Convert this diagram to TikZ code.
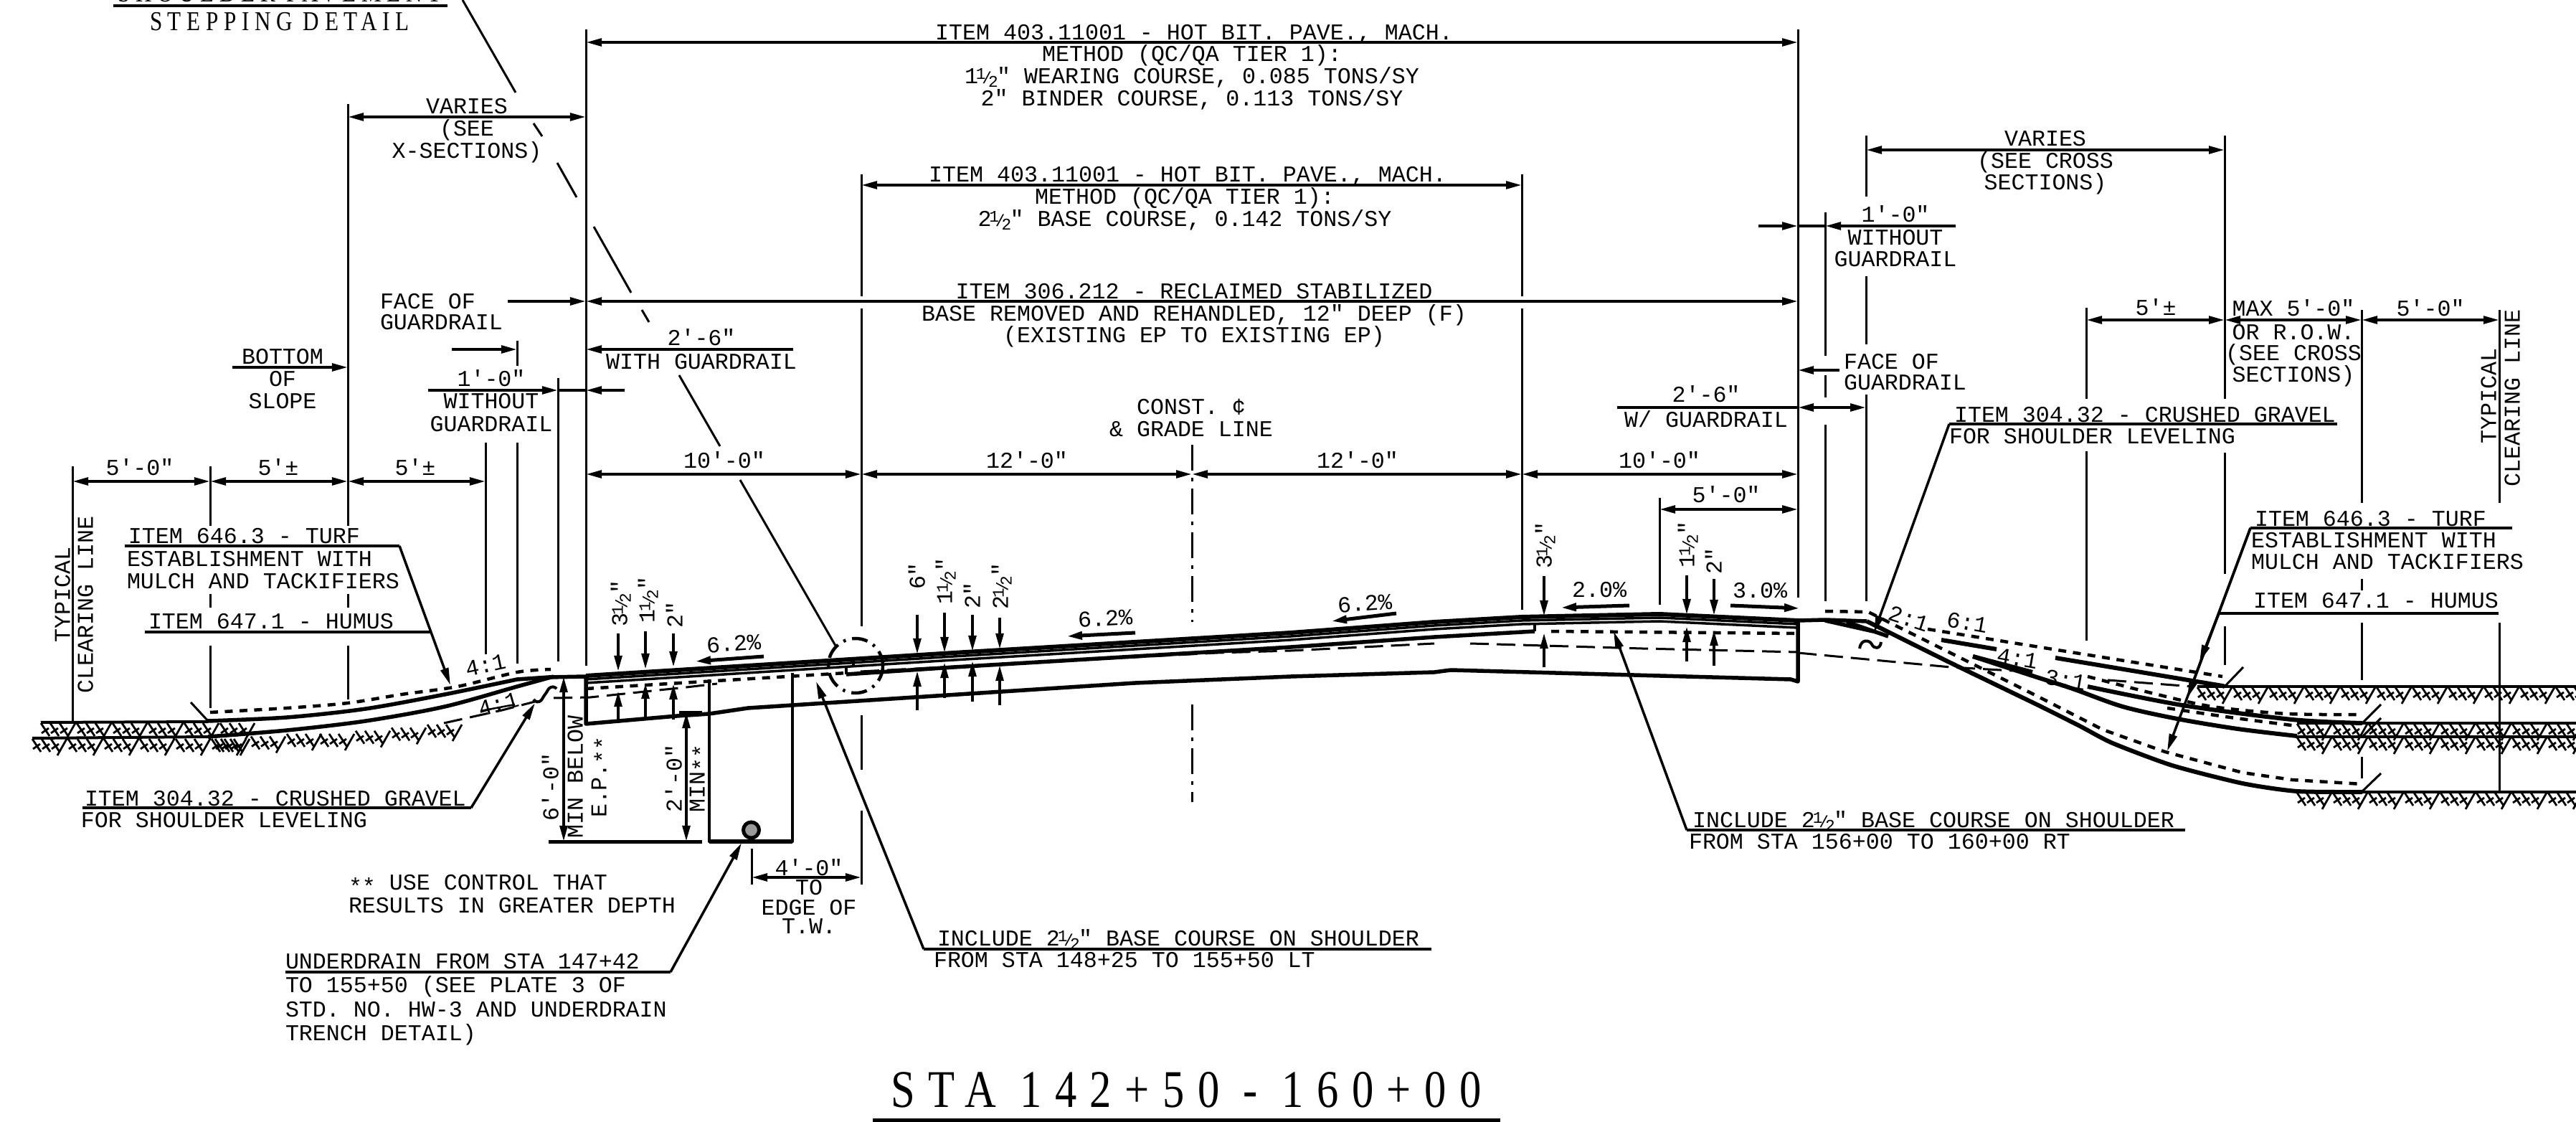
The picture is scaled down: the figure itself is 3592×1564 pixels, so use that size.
\documentclass[tikz,border=0pt]{standalone}
\usepackage{fontspec}
\usepackage{graphicx}
\usetikzlibrary{arrows.meta,calc}
\newfontfamily\cadfont{Liberation Mono}
\newfontfamily\slabfont[FakeStretch=0.82,LetterSpace=20]{Liberation Serif}
\newfontfamily\titlefont[FakeStretch=0.82,LetterSpace=25]{Liberation Serif}
\newcount\tc
\newcommand\hf{\kern-.1em\raisebox{.35ex}{\scalebox{.72}{1}}\kern-.16em\scalebox{.72}{/}\kern-.16em\raisebox{-.3ex}{\scalebox{.72}{2}}\kern-.05em}
\newcommand\stars{\raisebox{-.35ex}{**}}
% centred text, y = middle of the capitals
\newcommand\TC[4][]{\global\advance\tc by 1\relax\node[lab,yshift=-1.05mm,anchor=base,#1,name=t\the\tc] at (#2,#3) {#4};}
% left aligned text
\newcommand\TL[4][]{\global\advance\tc by 1\relax\node[lab,yshift=-1.05mm,anchor=base west,#1,name=t\the\tc] at (#2,#3) {#4};}
% rotated text reading upward
\newcommand\TV[3]{\global\advance\tc by 1\relax\node[lab,xshift=1.05mm,rotate=90,anchor=base,name=t\the\tc] at (#1,#2) {#3};}
% rotated slope label
\newcommand\TR[4]{\global\advance\tc by 1\relax\node[lab,rotate=#1,anchor=center,name=t\the\tc] at (#2,#3) {#4};}
\newcommand\hatch[4]{%
  \pgfmathsetmacro\hn{int((#3-#1)/50)}%
  \foreach \i in {0,...,\hn}{%
    \pgfmathsetmacro\hx{#1+50*\i}%
    \pgfmathsetmacro\hy{#2+(#4-#2)*\i/max(\hn,1)}%
    \foreach \k in {0,1,2}{%
      \draw[hatchline] (\hx+\k*13,\hy) -- ++(12,18) (\hx+\k*13+1,\hy+14) -- ++(10,-7);
    }%
    \draw[hatchline] (\hx+48,\hy) -- ++(-13,23);
  }%
}
\tikzset{
  lab/.style={inner sep=0pt,outer sep=0pt,font=\cadfont\fontsize{9}{10}\selectfont,text=black},
  ext/.style={line width=.03cm,line cap=butt},
  dimline/.style={line width=.04cm,{Triangle[length=2.2mm,width=1.05mm]}-{Triangle[length=2.2mm,width=1.05mm]}},
  dimto/.style={line width=.04cm,-{Triangle[length=2.2mm,width=1.05mm]}},
  rule/.style={line width=.045cm},
  leader/.style={line width=.035cm,-{Triangle[length=2.4mm,width=1.1mm]}},
  leadnote/.style={line width=.03cm},
  heavy/.style={line width=.055cm,line join=round},
  heavier/.style={line width=.06cm,line join=round},
  layer/.style={line width=.035cm},
  thickdash/.style={line width=.045cm,dash pattern=on 1.1mm off .95mm},
  thindash/.style={line width=.03cm,dash pattern=on 2.6mm off 1.1mm},
  cldash/.style={line width=.03cm,dash pattern=on 3.6mm off 1mm on .5mm off 1mm},
  hatchline/.style={line width=.028cm},
  ground/.style={line width=.04cm},
  tick/.style={line width=.03cm},
}
\begin{document}
\begin{tikzpicture}[x=0.01cm,y=-0.01cm]
\useasboundingbox (0,0) rectangle (3592,1564);
\fill[white] (0,0) rectangle (3592,1564);
\def\Tline{(817,942) -- (1090,925) -- (1330,910) -- (1800,882) -- (2000,867) -- (2122,860) -- (2314,856) -- (2507,865)}

%% ---------- extension lines
\draw[ext] (101,650)--(101,1007);
\draw[ext] (293,650)--(293,733) (293,828)--(293,847) (293,900)--(293,987);
\draw[ext] (485,145)--(485,733) (485,828)--(485,847) (485,900)--(485,975);
\draw[ext] (677,617)--(677,912);
\draw[ext] (721,617)--(721,925) (721,475)--(721,510);
\draw[ext] (778,527)--(778,922);
\draw[ext] (817,41)--(817,928);
\draw[ext] (1201,243)--(1201,413) (1201,430)--(1201,873) (1201,997)--(1201,1073) (1201,1130)--(1201,1233);
\draw[ext] (2122,243)--(2122,413) (2122,430)--(2122,850);
\draw[ext] (2314,694)--(2314,843);
\draw[ext] (2507,41)--(2507,833);
\draw[ext] (2545,296)--(2545,496) (2545,523)--(2545,554) (2545,592)--(2545,838);
\draw[ext] (2602,189)--(2602,274) (2602,385)--(2602,480) (2602,550)--(2602,838);
\draw[ext] (2909,429)--(2909,556) (2909,629)--(2909,893);
\draw[ext] (3102,189)--(3102,556) (3102,631)--(3102,800) (3102,873)--(3102,927);
\draw[ext] (3293,432)--(3293,701) (3293,807)--(3293,823) (3293,868)--(3293,948) (3293,1055)--(3293,1085);
\draw[ext] (3485,432)--(3485,701) (3485,868)--(3485,1105);
\draw[ext] (1048,1183)--(1048,1233);
\draw[cldash] (1662,620)--(1662,867);
\draw[cldash] (1662,982)--(1662,1118);

%% ---------- dimension lines
\draw[dimline] (101,671)--(293,671);
\draw[dimline] (293,671)--(485,671);
\draw[dimline] (485,671)--(677,671);
\draw[dimline] (485,163)--(817,163);
\draw[dimline] (817,59)--(2507,59);
\draw[dimline] (1201,258)--(2122,258);
\draw[dimline] (817,420)--(2507,420);
\draw[dimto] (708,420)--(817,420);
\draw[dimto] (1106,487)--(817,487);
\draw[dimto] (630,487)--(721,487);
\draw[dimto] (324,512)--(485,512);
\draw[dimto] (597,544)--(778,544);
\draw[dimto] (871,544)--(817,544);
\draw[line width=.04cm] (778,544)--(817,544);
\draw[dimline] (817,661)--(1201,661);
\draw[dimline] (1201,661)--(1662,661);
\draw[dimline] (1662,661)--(2122,661);
\draw[dimline] (2122,661)--(2507,661);
\draw[dimline] (2314,710)--(2507,710);
\draw[dimline] (1048,1223)--(1201,1223);
\draw[dimto] (2452,315)--(2507,315);
\draw[line width=.04cm] (2507,315)--(2545,315);
\draw[dimto] (2727,315)--(2545,315);
\draw[dimline] (2602,209)--(3102,209);
\draw[dimto] (2565,516)--(2507,516);
\draw[line width=.04cm] (2255,568)--(2507,568);
\draw[dimline] (2507,568)--(2602,568);
\draw[dimline] (2909,446)--(3102,446);
\draw[dimline] (3102,446)--(3293,446);
\draw[dimline] (3293,446)--(3485,446);
\draw[dimline] (786,943)--(786,1173);
\draw[dimline] (957,993)--(957,1173);

%% ---------- pavement depth arrows
\foreach \x/\a/\b/\c/\d in {862/883/936/963/1008,900/880/933/952/1000,939/883/930/953/1003,
  1279/857/912/935/990,1317/854/910/923/973,1356/857/908/921/978,1394/861/905/927/983,
  2153/803/859/882/930,2352/802/857/873/922,2390/807/858/878/928}{
  \draw[dimto] (\x,\a)--(\x,\b);
  \draw[dimto] (\x,\d)--(\x,\c);
}

%% ---------- slope arrows
\draw[dimto,line width=.05cm] (1065,915)--(969,922);
\draw[dimto,line width=.05cm] (1583,882)--(1487,887);
\draw[dimto,line width=.05cm] (1947,855)--(1856,866);
\draw[dimto,line width=.05cm] (2272,844)--(2176,847);
\draw[dimto,line width=.05cm] (2413,844)--(2510,848);

%% ---------- pavement
\draw[heavier] \Tline;
\draw[layer,shift={(0,5)}] \Tline;
\draw[layer,shift={(0,10)}] \Tline;
\draw[heavy] (1180,940) -- (1330,930) -- (1800,902) -- (2000,888) -- (2140,880);
\draw[line width=.04cm] (1180,931)--(1180,940) (2140,870)--(2140,880) (1190,920)--(1190,928);
\draw[thickdash] (817,960)--(1181,938);
\draw[thickdash] (2163,880)--(2507,883);
\draw[heavy] (817,943)--(817,1009)--(944,998)--(989,995)--(1043,987)--(1583,952)--(1800,943)--(2000,937)--(2023,934)--(2497,947)--(2507,950)--(2507,867);
% trench
\draw[heavy,line width=.045cm] (989,947)--(989,1173)--(1105,1173)--(1105,938);
\draw[line width=.055cm] (989,1173)--(1105,1173);
\draw[line width=.05cm] (765,1173)--(979,1173);
\draw[line width=.04cm] (947,993)--(979,993);
\draw[line width=.05cm,fill=gray!80!white] (1047.5,1157) circle (11);
% detail circle
\draw[line width=.045cm,dash pattern=on 2.2mm off .9mm on .35mm off .9mm] (1193,928) circle (38);

%% ---------- left slope
\draw[ground] (57,1007)--(290,1006);
\draw[ground] (45,1029)--(290,1027);
\hatch{57}{1008}{350}{1008}
\hatch{45}{1030}{300}{1030}
\hatch{300}{1030}{446}{1023}
\hatch{446}{1023}{596}{1010}
\draw[heavy] plot[smooth,tension=.5] coordinates {(290,1005)(400,1000)(510,988)(620,968)(721,947)} -- (765,944) -- (817,943);
\draw[heavy] plot[smooth,tension=.5] coordinates {(290,1027)(400,1018)(510,1005)(620,985)(721,957)(772,943)};
\draw[thickdash] plot[smooth,tension=.5] coordinates {(293,993)(400,987)(485,980)(560,968)(638,957)(721,937)(768,933)};
\draw[tick] (266,979)--(291,1006);
\draw[thindash] (619,1008)--(700,990)--(746,978);
\draw[thindash] (772,973)--(823,972)--(957,958)--(1000,953);
\draw[line width=.025cm] (670,991)--(718,982);
\draw[line width=.04cm] plot[smooth,tension=1] coordinates {(744,975)(752,978)(760,968)(768,958)(776,960)};

%% ---------- right shoulder and slopes
\draw[heavy] (2507,865)--(2545,864)--(2603,866);
\draw[heavy] (2545,865)--(2612,880);
\draw[heavy] (2575,867)--(2633,887);
\draw[line width=.04cm] (2593,904) .. controls (2595,890) and (2607,892) .. (2610,898) .. controls (2613,905) and (2622,905) .. (2623,895);
\draw[heavier] plot[smooth,tension=.4] coordinates {(2603,866)(2720,924)(2840,982)(2900,1012)(2946,1036)(3029,1067)(3127,1092)(3203,1103)(3294,1104)};
\draw[thickdash] (2545,852)--(2605,853)--(2840,970) -- (2932,1017) -- (3019,1048) -- (3127,1077) -- (3196,1087) -- (3294,1093);
\draw[thickdash] (2688,877)--(3099,943);
\draw[heavier] (2707,892)--(2784,905);
\draw[heavier] (2866,917)--(3099,956)--(3102,957);
\draw[heavier] (2751,915)--(2834,937);
\draw[heavier] plot[smooth,tension=.5] coordinates {(2911,957)(3043,983)(3196,1003)(3294,1008)};
\draw[heavier] plot[smooth,tension=.5] coordinates {(2751,915)(2834,942)(2890,960)(2960,985)(3036,1002)(3120,1016)(3203,1026)};
\draw[thickdash] plot[smooth,tension=.5] coordinates {(2911,943)(3000,966)(3085,985)(3190,995)(3294,996)};
\draw[thickdash] plot[smooth,tension=.5] coordinates {(3022,987)(3110,1000)(3203,1012)};
\draw[thindash] (2507,910)--(2720,930)--(2807,935);
\draw[thindash] (2939,948)--(3057,957);
\draw[tick] (3102,957)--(3128,930);
\draw[tick] (3294,1008)--(3320,982);
\draw[tick] (3294,1027)--(3320,1001);
\draw[tick] (3294,1103)--(3320,1078);
\draw[ground] (3064,957)--(3592,957);
\draw[ground] (3203,1008)--(3592,1008);
\draw[ground] (3203,1027)--(3592,1027);
\draw[ground] (3203,1104)--(3592,1104);
\hatch{3064}{958}{3592}{958}
\hatch{3203}{1009}{3592}{1009}
\hatch{3203}{1028}{3592}{1028}
\hatch{3203}{1105}{3592}{1105}
\draw[thindash] (2050,897)--(2290,904)--(2507,909);
\draw[thindash] (1200,936)--(1698,910)--(1800,907)--(2000,897);

%% ---------- leaders
\draw[leadnote] (645,0)--(719,129) (744,172)--(756,190) (777,227)--(804,275) (828,316)--(880,408) (895,432)--(905,449) (947,523)--(1004,622) (1032,669)--(1165,900);
\draw[leader] (557,761)--(628,955);
\draw[rule] (174,761)--(557,761);
\draw[rule] (202,881)--(600,881);
\draw[rule] (115,1126)--(657,1126);
\draw[leader] (657,1126)--(746,980);
\draw[rule] (398,1355)--(935,1355);
\draw[leader] (935,1355)--(1034,1175);
\draw[rule] (1288,1323)--(1996,1323);
\draw[leader] (1288,1323)--(1138,950);
\draw[rule] (2352,1157)--(3047,1157);
\draw[leader] (2352,1157)--(2250,880);
\draw[rule] (2718,591)--(3259,591);
\draw[leader] (2718,591)--(2613,882);
\draw[rule] (3138,736)--(3503,736);
\draw[leader] (3138,736)--(3022,1047);
\draw[leader] (3138,736)--(3050,973);
\draw[rule] (3094,855)--(3484,855);
\draw[leader] (3094,855)--(3067,923);
\draw[rule] (158,8)--(624,8);
\draw[line width=.06cm] (1217,1562)--(2092,1562);

%% ---------- texts: top
\global\advance\tc by 1\relax\node[inner sep=0pt,anchor=base,name=t\the\tc] at (390,3) {\slabfont\fontsize{10.8}{12}\selectfont SHOULDER PAVEMENT};
\global\advance\tc by 1\relax\node[inner sep=0pt,anchor=base,name=t\the\tc] at (390,43) {\slabfont\fontsize{10.8}{12}\selectfont STEPPING DETAIL};
\TC{1665}{45}{ITEM 403.11001 - HOT BIT. PAVE., MACH.}
\TC{1662}{75}{METHOD (QC/QA TIER 1):}
\TC{1662}{106}{1\hf″ WEARING COURSE, 0.085 TONS/SY}
\TC{1662}{137}{2″ BINDER COURSE, 0.113 TONS/SY}
\TC{1656}{243}{ITEM 403.11001 - HOT BIT. PAVE., MACH.}
\TC{1652}{274}{METHOD (QC/QA TIER 1):}
\TC{1652}{305}{2\hf″ BASE COURSE, 0.142 TONS/SY}
\TC{1665}{406}{ITEM 306.212 - RECLAIMED STABILIZED}
\TC{1665}{437}{BASE REMOVED AND REHANDLED, 12″ DEEP (F)}
\TC{1665}{467}{(EXISTING EP TO EXISTING EP)}
\TC{1661}{567}{CONST. ¢}
\TC{1661}{598}{\& GRADE LINE}
\TC{1432}{642}{12′-0″}
\TC{1893}{642}{12′-0″}
\TC{2314}{642}{10′-0″}
\TC{1010}{642}{10′-0″}
\TC{2407}{690}{5′-0″}
\TC{2379}{550}{2′-6″}
\TC{2379}{585}{W/ GUARDRAIL}
%% left block
\TC{651}{148}{VARIES}
\TC{651}{179}{(SEE}
\TC{651}{210}{X-SECTIONS)}
\TL{530}{420}{FACE OF}
\TL{530}{449}{GUARDRAIL}
\TC{394}{497}{BOTTOM}
\TC{394}{528}{OF}
\TC{394}{559}{SLOPE}
\TC{978}{471}{2′-6″}
\TC{978}{504}{WITH GUARDRAIL}
\TC{685}{528}{1′-0″}
\TC{685}{559}{WITHOUT}
\TC{685}{591}{GUARDRAIL}
\TC{195}{652}{5′-0″}
\TC{388}{652}{5′±}
\TC{579}{652}{5′±}
\TV{87}{829}{TYPICAL}
\TV{119}{843}{CLEARING LINE}
\TL{179}{747}{ITEM 646.3 - TURF}
\TL{177}{779}{ESTABLISHMENT WITH}
\TL{177}{810}{MULCH AND TACKIFIERS}
\TL{207}{866}{ITEM 647.1 - HUMUS}
\TL{118}{1113}{ITEM 304.32 - CRUSHED GRAVEL}
\TL{113}{1143}{FOR SHOULDER LEVELING}
\TL{486}{1230}{\stars{} USE CONTROL THAT}
\TL{486}{1262}{RESULTS IN GREATER DEPTH}
\TL{398}{1340}{UNDERDRAIN FROM STA 147+42}
\TL{398}{1373}{TO 155+50 (SEE PLATE 3 OF}
\TL{398}{1407}{STD. NO. HW-3 AND UNDERDRAIN}
\TL{398}{1440}{TRENCH DETAIL)}
\TV{768}{1097}{6′-0″}
\TV{802}{1083}{MIN BELOW}
\TV{835}{1083}{E.P.\stars}
\TV{940}{1085}{2′-0″}
\TV{972}{1085}{MIN\stars}
\TC{1128}{1210}{4′-0″}
\TC{1128}{1237}{TO}
\TC{1128}{1265}{EDGE OF}
\TC{1128}{1291}{T.W.}
\TL{1307}{1308}{INCLUDE 2\hf″ BASE COURSE ON SHOULDER}
\TL{1302}{1338}{FROM STA 148+25 TO 155+50 LT}
\TL{2360}{1143}{INCLUDE 2\hf″ BASE COURSE ON SHOULDER}
\TL{2355}{1173}{FROM STA 156+00 TO 160+00 RT}
%% depth labels
\TV{864}{841}{3\hf″}
\TV{902}{836}{1\hf″}
\TV{941}{857}{2″}
\TV{1279}{803}{6″}
\TV{1317}{810}{1\hf″}
\TV{1356}{830}{2″}
\TV{1395}{817}{2\hf″}
\TV{2153}{760}{3\hf″}
\TV{2352}{759}{1\hf″}
\TV{2390}{782}{2″}
\TR{4}{1023}{897}{6.2\%}
\TR{3}{1541}{862}{6.2\%}
\TR{4}{1903}{841}{6.2\%}
\TC{2230}{822}{2.0\%}
\TC{2454}{823}{3.0\%}
\TR{12}{677}{927}{4:1}
\TR{16}{695}{982}{4:1}
\TR{-18}{2662}{862}{2:1}
\TR{-10}{2743}{868}{6:1}
\TR{-10}{2813}{918}{4:1}
\TR{-10}{2880}{948}{3:1}
%% right block
\TC{2852}{193}{VARIES}
\TC{2852}{224}{(SEE CROSS}
\TC{2852}{254}{SECTIONS)}
\TC{2643}{299}{1′-0″}
\TC{2643}{331}{WITHOUT}
\TC{2643}{361}{GUARDRAIL}
\TL{2571}{504}{FACE OF}
\TL{2571}{533}{GUARDRAIL}
\TC{3006}{429}{5′±}
\TC{3198}{430}{MAX 5′-0″}
\TC{3198}{463}{OR R.O.W.}
\TC{3198}{492}{(SEE CROSS}
\TC{3198}{522}{SECTIONS)}
\TC{3389}{430}{5′-0″}
\TV{3470}{552}{TYPICAL}
\TV{3503}{555}{CLEARING LINE}
\TL{2725}{578}{ITEM 304.32 - CRUSHED GRAVEL}
\TL{2718}{608}{FOR SHOULDER LEVELING}
\TL{3144}{723}{ITEM 646.3 - TURF}
\TL{3139}{753}{ESTABLISHMENT WITH}
\TL{3139}{783}{MULCH AND TACKIFIERS}
\TL{3142}{837}{ITEM 647.1 - HUMUS}
%% title
\global\advance\tc by 1\relax\node[inner sep=0pt,anchor=base,name=t\the\tc] at (1654,1543) {\titlefont\fontsize{21}{24}\selectfont STA 142+50 - 160+00};
\end{tikzpicture}
\end{document}
